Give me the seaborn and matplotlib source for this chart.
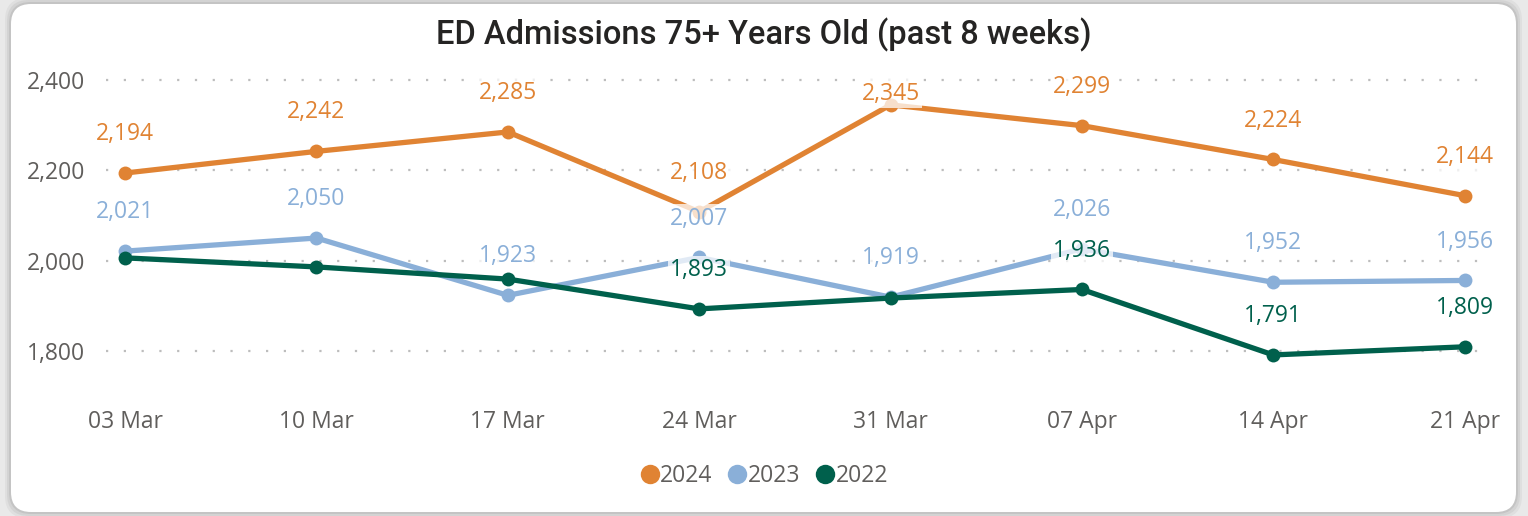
import matplotlib
matplotlib.use('Agg')
import pandas as pd
import seaborn as sns
import matplotlib.pyplot as plt
from matplotlib.lines import Line2D
from matplotlib.patches import FancyBboxPatch
from matplotlib.transforms import IdentityTransform

weeks = ['03 Mar', '10 Mar', '17 Mar', '24 Mar', '31 Mar', '07 Apr', '14 Apr', '21 Apr']
adm_2024 = [2194, 2242, 2285, 2108, 2345, 2299, 2224, 2144]
adm_2023 = [2021, 2050, 1923, 2007, 1919, 2026, 1952, 1956]
adm_2022 = [2006, 1986, 1959, 1893, 1917, 1936, 1791, 1809]
# power bi hides overlapping labels, only these 2022 ones are visible
show_2022 = [False, False, False, True, False, True, True, True]

years = ['2024', '2023', '2022']
colors = {'2024': '#E08333', '2023': '#8AAFD8', '2022': '#00604C'}

df = pd.DataFrame({
    'week': weeks * 3,
    'year': ['2024'] * 8 + ['2023'] * 8 + ['2022'] * 8,
    'value': adm_2024 + adm_2023 + adm_2022,
})

sns.set_theme(style='white')
plt.rcParams['font.family'] = ['Open Sans', 'DejaVu Sans']

fig = plt.figure(figsize=(15.28, 5.16), dpi=100)
fig.patch.set_facecolor('#E9E9E9')

# card with a soft shadow
for grow, a in [(6, 0.04), (4, 0.05), (2, 0.07)]:
    fig.patches.append(FancyBboxPatch((11 - grow, 4 - grow), 1505 + 2 * grow, 508 + 2 * grow,
                                      boxstyle='round,pad=0,rounding_size=22', transform=IdentityTransform(),
                                      fc='black', ec='none', alpha=a, zorder=0))
fig.patches.append(FancyBboxPatch((11, 4), 1505, 508, boxstyle='round,pad=0,rounding_size=20',
                                  transform=IdentityTransform(), fc='white', ec='none', zorder=1))

ax = fig.add_axes([106 / 1528, 1 - 396 / 516, (1478 - 106) / 1528, (396 - 62) / 516])
ax.set_facecolor('none')
ax.set_zorder(2)

sns.lineplot(data=df, x='week', y='value', hue='year', hue_order=years, palette=colors,
             marker='o', markersize=10, markeredgewidth=0, linewidth=3.8, sort=False,
             legend=False, ax=ax)

ax.set_ylim(1700, 2440)
ax.set_xlim(-0.1, 7.07)
ax.set_yticks([1800, 2000, 2200, 2400])
ax.set_yticklabels([f'{v:,}' for v in [1800, 2000, 2200, 2400]])
ax.set_xlabel('')
ax.set_ylabel('')
for s in ax.spines.values():
    s.set_visible(False)
ax.tick_params(axis='y', length=0, pad=15, labelsize=16.5, labelcolor='#605E5C')
ax.tick_params(axis='x', length=0, pad=10, labelsize=16.5, labelcolor='#605E5C')
ax.grid(axis='y', color='#BDBDBD', linestyle=(0, (1, 7)), linewidth=1.6)
ax.set_axisbelow(True)

# data labels
series = {'2024': adm_2024, '2023': adm_2023, '2022': adm_2022}
for yr in years:
    vals = series[yr]
    for i, v in enumerate(vals):
        if yr == '2022' and not show_2022[i]:
            continue
        off = 28 if v < 2320 else 8
        ax.annotate(f'{v:,}', (i, v), xytext=(0, off), textcoords='offset points',
                    ha='center', va='center', fontsize=16.5, color=colors[yr], zorder=5,
                    bbox=dict(boxstyle='square,pad=0.1', fc='white', ec='none', alpha=0.75))

fig.text(764 / 1528, 1 - 35 / 516, 'ED Admissions 75+ Years Old (past 8 weeks)',
         ha='center', va='center', fontsize=23.5, color='#252423',
         family=['Roboto', 'DejaVu Sans'], fontweight='medium', zorder=3)

handles = [Line2D([], [], linestyle='none', marker='o', markersize=14, markeredgewidth=0,
                  color=colors[y]) for y in years]
leg = fig.legend(handles, years, loc='center', bbox_to_anchor=(762 / 1528, 1 - 476 / 516),
                 ncol=3, frameon=False, fontsize=16.5, handletextpad=-0.15, columnspacing=0.5,
                 handlelength=1.2, labelcolor='#605E5C')
leg.set_zorder(3)

fig.savefig('out.png', dpi=100, facecolor=fig.get_facecolor())
